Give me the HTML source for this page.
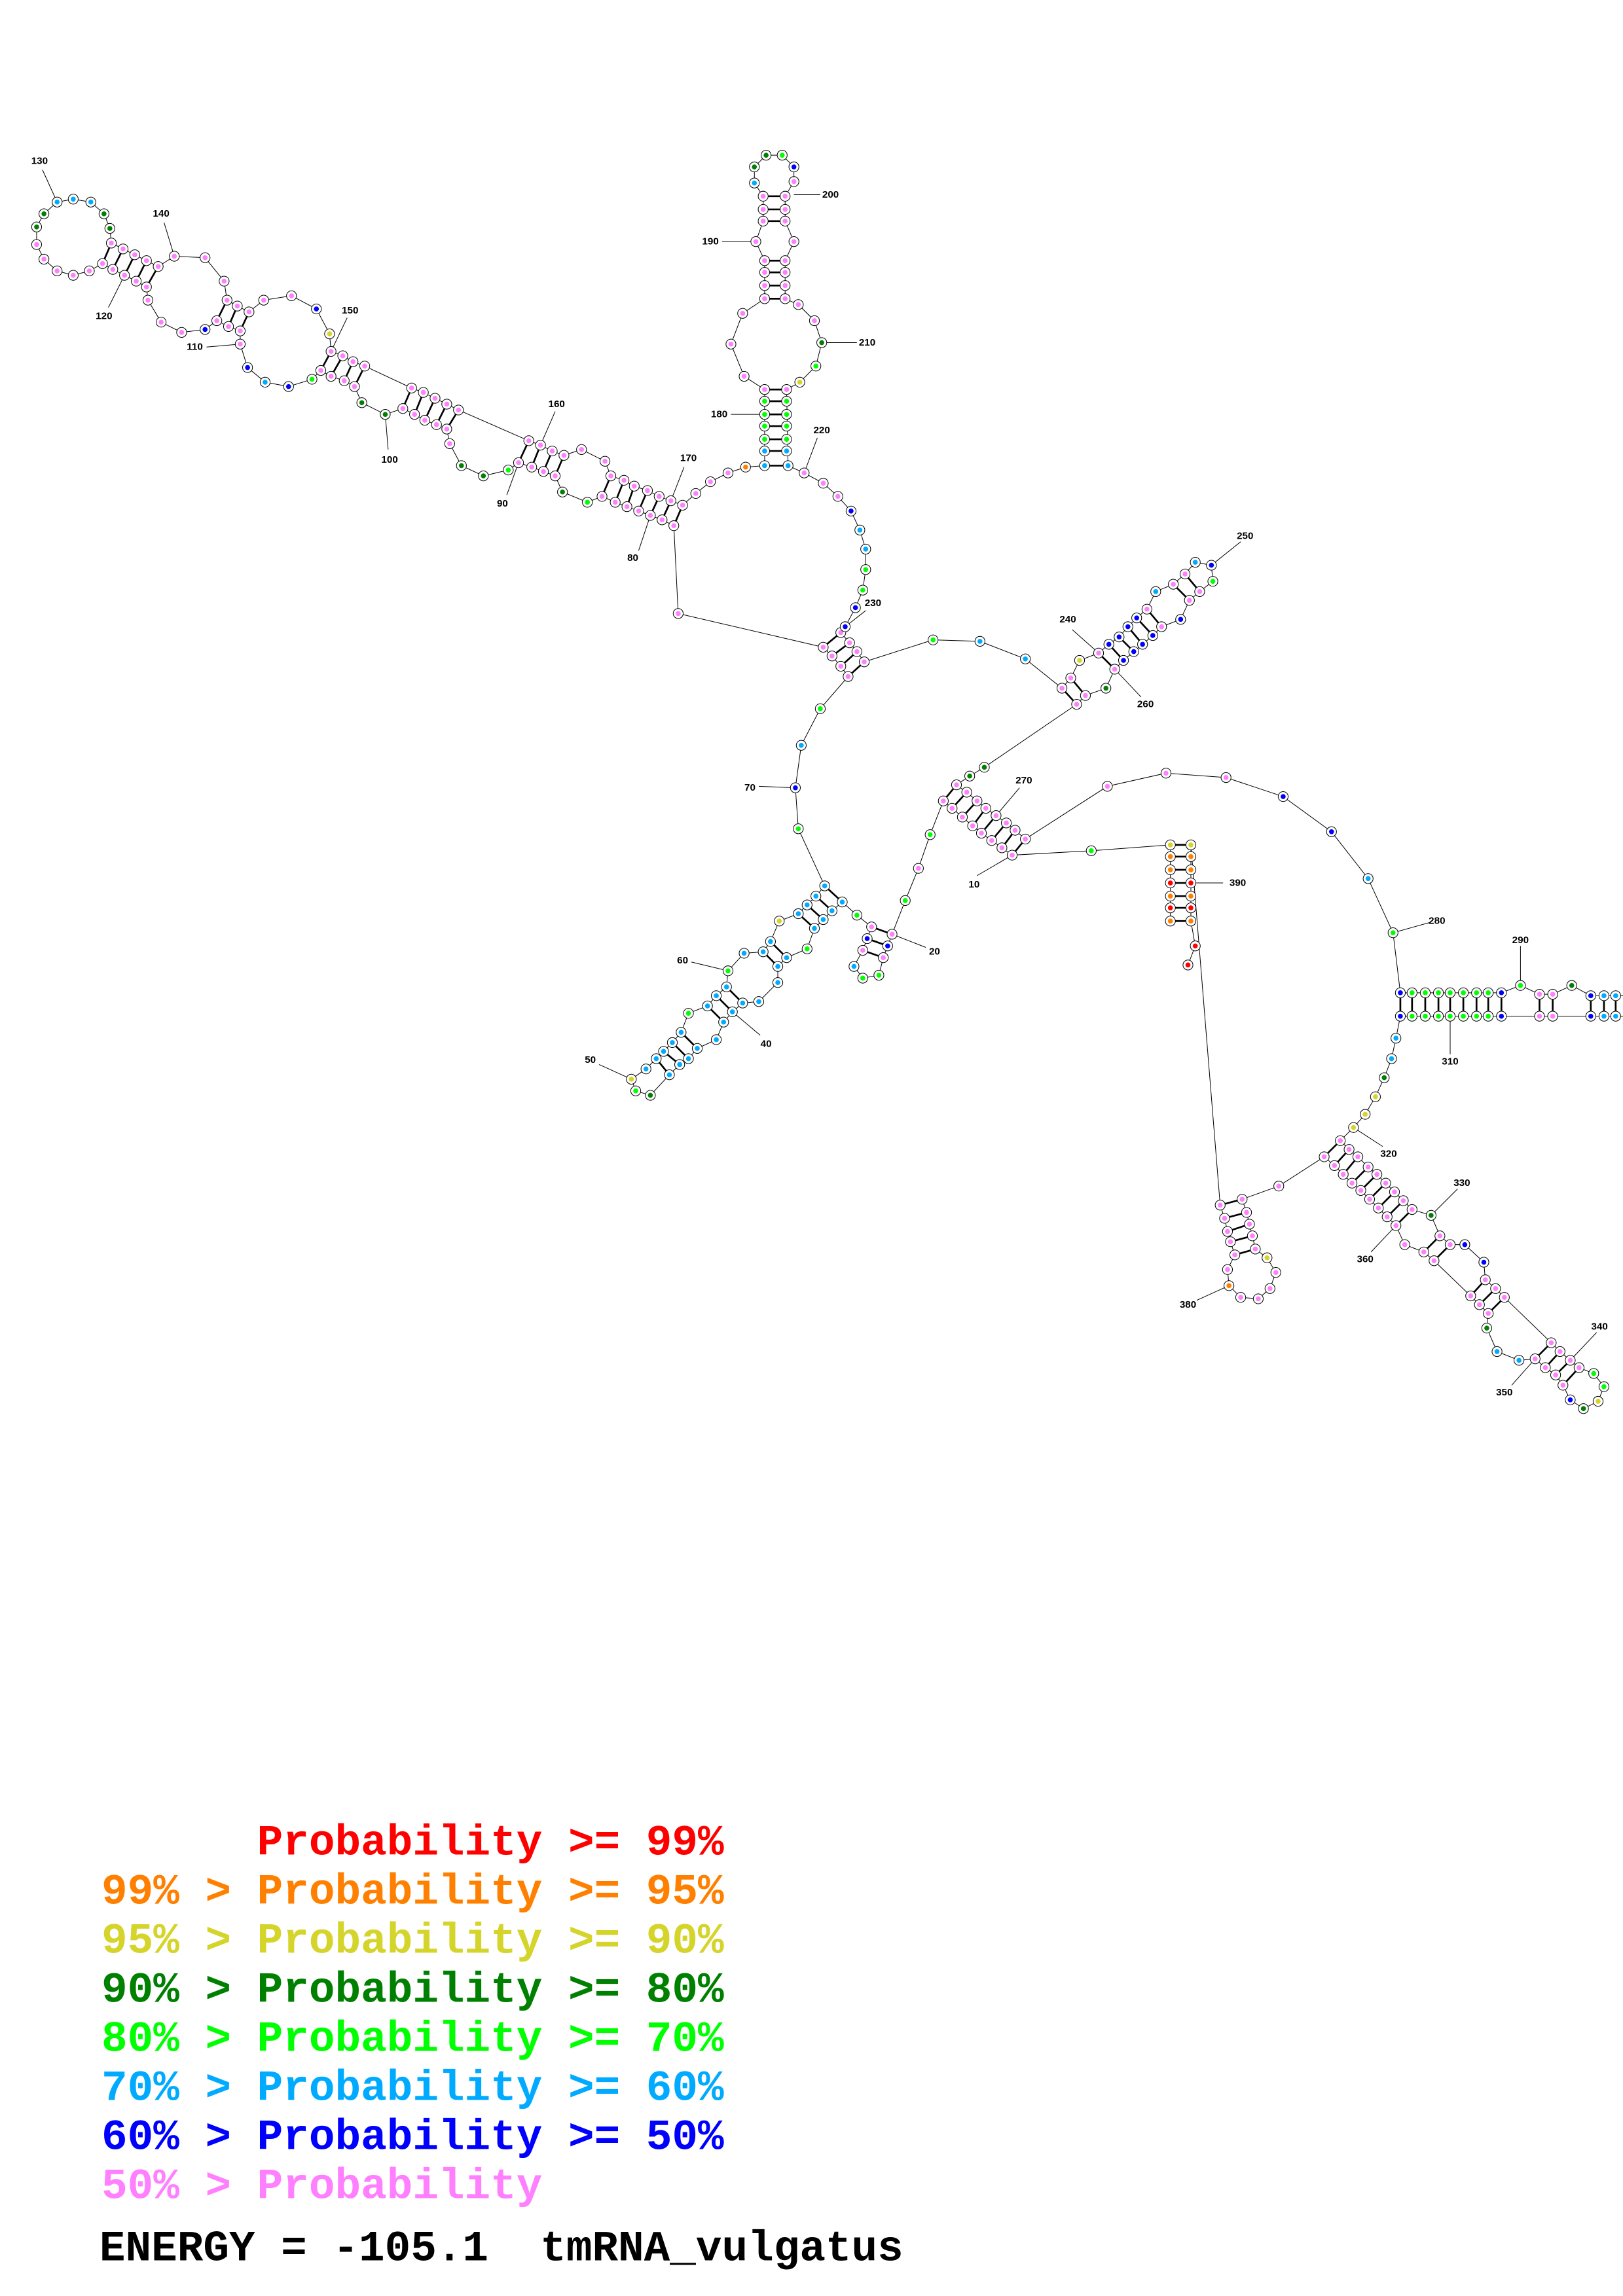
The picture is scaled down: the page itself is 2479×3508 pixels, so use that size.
<!DOCTYPE html>
<html><head><meta charset="utf-8"><style>
html,body{margin:0;padding:0;background:#fff;}
svg{display:block}
.bb{fill:none;stroke:#000;stroke-width:0.45}
.nd{fill:none;stroke:none}
.rg{stroke:#000;stroke-width:1.2}
.ll{stroke:#000;stroke-width:0.45}
.lb{font-family:"Liberation Sans",sans-serif;font-weight:bold;font-size:6.8px;fill:#000;text-anchor:middle}
.lg{font-family:"Liberation Mono",monospace;font-weight:bold;font-size:29.5px;white-space:pre}
</style></head><body>
<svg width="2479" height="3508" viewBox="0 0 1108 1568" preserveAspectRatio="none" xmlns="http://www.w3.org/2000/svg">
<defs>
<marker id="mp" markerUnits="userSpaceOnUse" markerWidth="10" markerHeight="10" refX="5" refY="5" overflow="visible"><circle cx="5" cy="5" r="3.4" fill="#fff" stroke="#000" stroke-width="0.45"/><circle cx="5" cy="5" r="1.7" fill="#ff80ff"/></marker>
<marker id="ml" markerUnits="userSpaceOnUse" markerWidth="10" markerHeight="10" refX="5" refY="5" overflow="visible"><circle cx="5" cy="5" r="3.4" fill="#fff" stroke="#000" stroke-width="0.45"/><circle cx="5" cy="5" r="1.7" fill="#00ff00"/></marker>
<marker id="mg" markerUnits="userSpaceOnUse" markerWidth="10" markerHeight="10" refX="5" refY="5" overflow="visible"><circle cx="5" cy="5" r="3.4" fill="#fff" stroke="#000" stroke-width="0.45"/><circle cx="5" cy="5" r="1.7" fill="#008000"/></marker>
<marker id="mc" markerUnits="userSpaceOnUse" markerWidth="10" markerHeight="10" refX="5" refY="5" overflow="visible"><circle cx="5" cy="5" r="3.4" fill="#fff" stroke="#000" stroke-width="0.45"/><circle cx="5" cy="5" r="1.7" fill="#00aaff"/></marker>
<marker id="mb" markerUnits="userSpaceOnUse" markerWidth="10" markerHeight="10" refX="5" refY="5" overflow="visible"><circle cx="5" cy="5" r="3.4" fill="#fff" stroke="#000" stroke-width="0.45"/><circle cx="5" cy="5" r="1.7" fill="#0000ff"/></marker>
<marker id="my" markerUnits="userSpaceOnUse" markerWidth="10" markerHeight="10" refX="5" refY="5" overflow="visible"><circle cx="5" cy="5" r="3.4" fill="#fff" stroke="#000" stroke-width="0.45"/><circle cx="5" cy="5" r="1.7" fill="#d4d42a"/></marker>
<marker id="mo" markerUnits="userSpaceOnUse" markerWidth="10" markerHeight="10" refX="5" refY="5" overflow="visible"><circle cx="5" cy="5" r="3.4" fill="#fff" stroke="#000" stroke-width="0.45"/><circle cx="5" cy="5" r="1.7" fill="#ff8000"/></marker>
<marker id="mr" markerUnits="userSpaceOnUse" markerWidth="10" markerHeight="10" refX="5" refY="5" overflow="visible"><circle cx="5" cy="5" r="3.4" fill="#fff" stroke="#000" stroke-width="0.45"/><circle cx="5" cy="5" r="1.7" fill="#ff0000"/></marker>
</defs>

<polyline class="bb" points="799,629 799,577 745,581 691,584 684,579 677,574 670,569 664,564 657,558 650,552 644,547 635,570 627,593 618,615 609,638 606,646 603,654 600,666 589,668 583,660 589,649 592,641 595,633 585,625 575,616 568,622 562,628 556,634 551,648 537,654 531,660 531,671 518,684 507,685 500,691 494,698 489,710 476,716 470,723 464,727 457,734 444,748 434,745 431,737 441,730 448,723 453,718 459,712 465,705 470,692 483,687 489,680 496,674 497,663 508,651 521,650 526,643 532,629 545,624 551,618 557,612 563,605 545,566 543,538 547,509 560,484 579,462 574,455 568,448 562,442 463,419 460,359 452,355 444,352 436,349 428,346 420,343 411,339 401,343 384,336 379,325 371,322 363,319 354,316 347,321 330,325 315,318 307,303 305,293 298,290 290,287 283,283 275,279 263,283 247,275 242,264 235,260 226,257 219,253 213,259 197,264 181,261 169,251 164,235 164,226 156,223 148,219 140,225 124,227 110,220 101,205 100,196 93,192 85,188 77,184 70,180 61,185 50,188 39,185 30,177 25,167 25,155 30,146 39,138 50,136 62,138 71,146 75,156 76,166 84,170 92,174 100,178 108,182 119,175 140,176 153,192 155,205 162,209 170,213 180,205 199,202 216,211 225,228 226,240 234,243 241,247 249,250 281,265 289,268 297,272 305,276 313,280 361,301 369,304 377,308 385,311 397,307 413,315 417,325 426,328 433,332 442,335 450,339 458,342 466,345 475,337 485,329 497,323 509,319 522,318 522,266 508,257 499,235 507,214 522,204 522,178 516,165 521,151 521,134 515,125 515,114 523,106 534,106 542,114 542,124 536,134 536,151 542,165 536,178 536,204 545,208 556,219 561,234 557,250 546,261 537,266 538,318 549,323 562,330 572,339 581,349 587,362 591,375 591,389 589,403 584,415 577,428 574,432 580,439 585,445 590,452 637,437 669,438 700,450 725,470 731,463 737,451 750,446 757,440 764,435 770,428 776,422 783,416 789,404 801,399 809,392 816,384 827,386 828,397 819,404 812,410 806,423 793,428 787,434 780,440 774,445 767,451 761,457 755,470 741,475 735,481 672,524 662,530 653,536 660,541 667,547 673,552 680,557 687,562 693,567 700,573 756,537 796,528 837,531 876,544 909,568 934,600 951,637 956,678 1025,678 1038,673 1051,679 1060,679 1073,673 1086,680 1120,680"/>
<polyline class="bb" points="1120,694 1086,694 1060,694 1051,694 1025,694 956,694 953,709 950,723 945,736 939,749 932,761 924,770 915,779 921,785 927,790 934,797 940,802 946,808 952,814 958,820 964,826 977,830 983,844 990,850 1000,850 1013,862 1014,874 1021,880 1027,886 1059,917 1065,923 1072,929 1078,934 1088,938 1095,947 1091,957 1081,962 1072,956 1067,946 1062,939 1055,934 1048,928 1037,929 1022,923 1015,907 1016,897 1010,891 1004,885 979,861 972,855 959,850 953,837 947,831 941,825 935,819 929,813 923,808 917,802 911,796 904,790 873,810 848,819 851,828 853,836 855,844 857,853 865,859 871,869 867,880 859,887 847,886 839,878 838,867 843,857 840,848 838,841 836,832 833,823 813,577 813,629 816,646 811,659"/>

<g class="rg">
<line x1="521" y1="134" x2="536" y2="134"/><line x1="521" y1="143" x2="536" y2="143"/><line x1="521" y1="151" x2="536" y2="151"/>
<line x1="522" y1="178" x2="536" y2="178"/><line x1="522" y1="186" x2="536" y2="186"/><line x1="522" y1="195" x2="536" y2="195"/><line x1="522" y1="204" x2="536" y2="204"/>
<line x1="522" y1="266" x2="537" y2="266"/><line x1="522" y1="274" x2="537" y2="274"/><line x1="522" y1="283" x2="537" y2="283"/><line x1="522" y1="291" x2="537" y2="291"/><line x1="522" y1="300" x2="537" y2="300"/><line x1="522" y1="308" x2="537" y2="308"/><line x1="522" y1="318" x2="538" y2="318"/>
<line x1="574" y1="432" x2="562" y2="442"/><line x1="580" y1="439" x2="568" y2="448"/><line x1="585" y1="445" x2="574" y2="455"/><line x1="590" y1="452" x2="579" y2="462"/>
<line x1="725" y1="470" x2="735" y2="481"/><line x1="731" y1="463" x2="741" y2="475"/><line x1="750" y1="446" x2="761" y2="457"/><line x1="757" y1="440" x2="767" y2="451"/><line x1="764" y1="435" x2="774" y2="445"/><line x1="770" y1="428" x2="780" y2="440"/><line x1="776" y1="422" x2="787" y2="434"/><line x1="783" y1="416" x2="793" y2="428"/><line x1="801" y1="399" x2="812" y2="410"/><line x1="809" y1="392" x2="819" y2="404"/>
<line x1="653" y1="536" x2="644" y2="547"/><line x1="660" y1="541" x2="650" y2="552"/><line x1="667" y1="547" x2="657" y2="558"/><line x1="673" y1="552" x2="664" y2="564"/><line x1="680" y1="557" x2="670" y2="569"/><line x1="687" y1="562" x2="677" y2="574"/><line x1="693" y1="567" x2="684" y2="579"/><line x1="700" y1="573" x2="691" y2="584"/>
<line x1="799" y1="577" x2="813" y2="577"/><line x1="799" y1="585" x2="813" y2="585"/><line x1="799" y1="594" x2="813" y2="594"/><line x1="799" y1="603" x2="813" y2="603"/><line x1="799" y1="612" x2="813" y2="612"/><line x1="799" y1="620" x2="813" y2="620"/><line x1="799" y1="629" x2="813" y2="629"/>
<line x1="956" y1="678" x2="956" y2="694"/><line x1="964" y1="678" x2="964" y2="694"/><line x1="973" y1="678" x2="973" y2="694"/><line x1="982" y1="678" x2="982" y2="694"/><line x1="990" y1="678" x2="990" y2="694"/><line x1="999" y1="678" x2="999" y2="694"/><line x1="1008" y1="678" x2="1008" y2="694"/><line x1="1016" y1="678" x2="1016" y2="694"/><line x1="1025" y1="678" x2="1025" y2="694"/>
<line x1="1051" y1="679" x2="1051" y2="694"/><line x1="1060" y1="679" x2="1060" y2="694"/><line x1="1086" y1="680" x2="1086" y2="694"/><line x1="1095" y1="680" x2="1095" y2="694"/><line x1="1103" y1="680" x2="1103" y2="694"/>
<line x1="915" y1="779" x2="904" y2="790"/><line x1="921" y1="785" x2="911" y2="796"/><line x1="927" y1="790" x2="917" y2="802"/><line x1="934" y1="797" x2="923" y2="808"/><line x1="940" y1="802" x2="929" y2="813"/><line x1="946" y1="808" x2="935" y2="819"/><line x1="952" y1="814" x2="941" y2="825"/><line x1="958" y1="820" x2="947" y2="831"/><line x1="964" y1="826" x2="953" y2="837"/>
<line x1="983" y1="844" x2="972" y2="855"/><line x1="990" y1="850" x2="979" y2="861"/>
<line x1="1014" y1="874" x2="1004" y2="885"/><line x1="1021" y1="880" x2="1010" y2="891"/><line x1="1027" y1="886" x2="1016" y2="897"/>
<line x1="1048" y1="928" x2="1059" y2="917"/><line x1="1055" y1="934" x2="1065" y2="923"/><line x1="1062" y1="939" x2="1072" y2="929"/><line x1="1067" y1="946" x2="1078" y2="934"/>
<line x1="833" y1="823" x2="848" y2="819"/><line x1="836" y1="832" x2="851" y2="828"/><line x1="838" y1="841" x2="853" y2="836"/><line x1="840" y1="848" x2="855" y2="844"/><line x1="843" y1="857" x2="857" y2="853"/>
<line x1="595" y1="633" x2="609" y2="638"/><line x1="592" y1="641" x2="606" y2="646"/><line x1="589" y1="649" x2="603" y2="654"/>
<line x1="563" y1="605" x2="575" y2="616"/><line x1="557" y1="612" x2="568" y2="622"/><line x1="551" y1="618" x2="562" y2="628"/><line x1="545" y1="624" x2="556" y2="634"/><line x1="526" y1="643" x2="537" y2="654"/><line x1="521" y1="650" x2="531" y2="660"/>
<line x1="496" y1="674" x2="507" y2="685"/><line x1="489" y1="680" x2="500" y2="691"/><line x1="483" y1="687" x2="494" y2="698"/><line x1="465" y1="705" x2="476" y2="716"/><line x1="459" y1="712" x2="470" y2="723"/><line x1="453" y1="718" x2="464" y2="727"/><line x1="448" y1="723" x2="457" y2="734"/>
<line x1="466" y1="345" x2="460" y2="359"/><line x1="458" y1="342" x2="452" y2="355"/><line x1="450" y1="339" x2="444" y2="352"/><line x1="442" y1="335" x2="436" y2="349"/><line x1="433" y1="332" x2="428" y2="346"/><line x1="426" y1="328" x2="420" y2="343"/><line x1="417" y1="325" x2="411" y2="339"/>
<line x1="385" y1="311" x2="379" y2="325"/><line x1="377" y1="308" x2="371" y2="322"/><line x1="369" y1="304" x2="363" y2="319"/><line x1="361" y1="301" x2="354" y2="316"/>
<line x1="313" y1="280" x2="305" y2="293"/><line x1="305" y1="276" x2="298" y2="290"/><line x1="297" y1="272" x2="290" y2="287"/><line x1="289" y1="268" x2="283" y2="283"/><line x1="281" y1="265" x2="275" y2="279"/>
<line x1="226" y1="240" x2="219" y2="253"/><line x1="234" y1="243" x2="226" y2="257"/><line x1="241" y1="247" x2="235" y2="260"/><line x1="249" y1="250" x2="242" y2="264"/>
<line x1="148" y1="219" x2="155" y2="205"/><line x1="156" y1="223" x2="162" y2="209"/><line x1="164" y1="226" x2="170" y2="213"/>
<line x1="108" y1="182" x2="100" y2="196"/><line x1="100" y1="178" x2="93" y2="192"/><line x1="92" y1="174" x2="85" y2="188"/><line x1="84" y1="170" x2="77" y2="184"/><line x1="76" y1="166" x2="70" y2="180"/>
</g>

<g class="ll">
<line x1="691" y1="584" x2="667" y2="598"/><line x1="609" y1="638" x2="632" y2="647"/><line x1="500" y1="691" x2="519" y2="707"/><line x1="431" y1="737" x2="409" y2="727"/><line x1="497" y1="663" x2="472" y2="657"/><line x1="543" y1="538" x2="518" y2="537"/><line x1="444" y1="352" x2="436" y2="376"/><line x1="354" y1="316" x2="346" y2="338"/><line x1="263" y1="283" x2="265" y2="307"/><line x1="164" y1="235" x2="141" y2="237"/><line x1="85" y1="188" x2="74" y2="210"/><line x1="39" y1="138" x2="29" y2="116"/><line x1="119" y1="175" x2="112" y2="152"/><line x1="226" y1="240" x2="237" y2="217"/><line x1="369" y1="304" x2="379" y2="281"/><line x1="458" y1="342" x2="467" y2="319"/><line x1="522" y1="283" x2="499" y2="283"/><line x1="516" y1="165" x2="493" y2="165"/><line x1="542" y1="133" x2="560" y2="133"/><line x1="561" y1="234" x2="585" y2="234"/><line x1="549" y1="323" x2="558" y2="299"/><line x1="577" y1="428" x2="591" y2="417"/><line x1="750" y1="446" x2="732" y2="430"/><line x1="827" y1="386" x2="847" y2="370"/><line x1="761" y1="457" x2="779" y2="476"/><line x1="680" y1="557" x2="696" y2="538"/><line x1="951" y1="637" x2="976" y2="630"/><line x1="1038" y1="673" x2="1038" y2="646"/><line x1="990" y1="694" x2="990" y2="720"/><line x1="924" y1="770" x2="944" y2="783"/><line x1="977" y1="830" x2="995" y2="812"/><line x1="1072" y1="929" x2="1090" y2="910"/><line x1="1048" y1="928" x2="1032" y2="946"/><line x1="953" y1="837" x2="936" y2="855"/><line x1="839" y1="878" x2="817" y2="888"/><line x1="813" y1="603" x2="835" y2="603"/>
</g>

<polyline class="nd" marker-start="url(#mp)" marker-mid="url(#mp)" marker-end="url(#mp)" points="542,124 521,134 521,143 521,151 536,134 536,143 536,151 516,165 542,165 522,178 522,186 522,195 522,204 536,178 536,186 536,195 536,204 507,214 499,235 508,257 545,208 556,219 522,266 537,266 497,323 485,329 475,337 549,323 562,330 572,339 574,432 580,439 585,445 590,452 562,442 568,448 574,455 579,462 725,470 731,463 750,446 783,416 801,399 809,392 819,404 812,410 793,428 761,457 741,475 735,481 653,536 660,541 667,547 673,552 680,557 687,562 693,567 700,573 644,547 650,552 657,558 664,564 670,569 677,574 684,579 691,584 756,537 796,528 837,531 1051,679 1060,679 1051,694 1060,694 915,779 921,785 927,790 934,797 940,802 946,808 952,814 958,820 964,826 904,790 911,796 917,802 923,808 929,813 935,819 941,825 947,831 953,837 959,850 972,855 979,861 983,844 990,850 1014,874 1021,880 1027,886 1004,885 1010,891 1016,897 1048,928 1055,934 1062,939 1067,946 1078,934 1072,929 1065,923 1059,917 873,810 848,819 833,823 836,832 838,841 840,848 843,857 838,867 847,886 859,887 867,880 871,869 857,853 855,844 853,836 851,828 627,593 609,638 595,633 603,654 589,649 463,419 466,345 458,342 450,339 442,335 433,332 426,328 417,325 460,359 452,355 444,352 436,349 428,346 420,343 411,339 413,315 397,307 385,311 379,325 377,308 369,304 361,301 371,322 363,319 354,316 307,303 305,293 298,290 290,287 283,283 275,279 313,280 305,276 297,272 289,268 281,265 249,250 241,247 234,243 226,240 219,253 226,257 235,260 242,264 199,202 180,205 170,213 164,235 164,226 156,223 148,219 162,209 155,205 153,192 140,176 119,175 108,182 124,227 110,220 101,205 100,196 100,178 92,174 84,170 76,166 93,192 85,188 77,184 70,180 25,167 30,177 39,185 50,188 61,185"/>
<polyline class="nd" marker-start="url(#ml)" marker-mid="url(#ml)" marker-end="url(#ml)" points="534,106 557,250 522,274 522,283 522,291 522,300 537,274 537,283 537,291 537,300 591,389 589,403 637,437 828,397 951,637 964,678 973,678 982,678 990,678 999,678 1008,678 1016,678 964,694 973,694 982,694 990,694 999,694 1008,694 1016,694 1038,673 1095,947 1088,938 745,581 635,570 618,615 589,668 600,666 585,625 551,648 497,663 470,692 434,745 545,566 560,484 401,343 347,321 213,259"/>
<polyline class="nd" marker-start="url(#mg)" marker-mid="url(#mg)" marker-end="url(#mg)" points="515,114 523,106 561,234 672,524 662,530 755,470 1073,673 945,736 977,830 1015,907 1081,962 444,748 384,336 330,325 315,318 247,275 263,283 75,156 71,146 30,146 25,155"/>
<polyline class="nd" marker-start="url(#mc)" marker-mid="url(#mc)" marker-end="url(#mc)" points="515,125 522,308 522,318 537,308 538,318 587,362 591,375 669,438 700,450 789,404 816,384 1095,680 1103,680 1095,694 1103,694 1112,680 1112,694 953,709 950,723 1022,923 1037,929 934,600 583,660 575,616 568,622 562,628 556,634 537,654 531,660 531,671 518,684 507,685 500,691 494,698 489,710 476,716 470,723 464,727 457,734 563,605 557,612 551,618 545,624 526,643 521,650 508,651 496,674 489,680 483,687 465,705 459,712 453,718 448,723 441,730 547,509 181,261 62,138 50,136 39,138"/>
<polyline class="nd" marker-start="url(#mb)" marker-mid="url(#mb)" marker-end="url(#mb)" points="542,114 581,349 584,415 577,428 757,440 764,435 770,428 776,422 827,386 806,423 787,434 780,440 774,445 767,451 876,544 909,568 956,678 1025,678 956,694 1025,694 1086,680 1086,694 1000,850 1013,862 1072,956 592,641 606,646 543,538 216,211 197,264 169,251 140,225"/>
<polyline class="nd" marker-start="url(#my)" marker-mid="url(#my)" marker-end="url(#my)" points="546,261 737,451 939,749 932,761 924,770 1091,957 865,859 532,629 431,737 225,228 799,577 813,577"/>
<polyline class="nd" marker-start="url(#mo)" marker-mid="url(#mo)" marker-end="url(#mo)" points="509,319 839,878 799,585 799,594 799,612 799,629 813,585 813,594 813,612 813,629"/>
<polyline class="nd" marker-start="url(#mr)" marker-mid="url(#mr)" marker-end="url(#mr)" points="799,603 799,620 813,603 813,620 816,646 811,659"/>

<g class="lb">
<text x="665" y="606">10</text><text x="638" y="652">20</text><text x="523" y="715">40</text><text x="403" y="726">50</text><text x="466" y="658">60</text><text x="512" y="540">70</text><text x="432" y="383">80</text><text x="343" y="346">90</text><text x="266" y="316">100</text><text x="133" y="239">110</text><text x="71" y="218">120</text><text x="27" y="112">130</text><text x="110" y="148">140</text><text x="239" y="214">150</text><text x="380" y="278">160</text><text x="470" y="315">170</text><text x="491" y="285">180</text><text x="485" y="167">190</text><text x="567" y="135">200</text><text x="592" y="236">210</text><text x="561" y="296">220</text><text x="596" y="414">230</text><text x="729" y="425">240</text><text x="850" y="368">250</text><text x="782" y="483">260</text><text x="699" y="535">270</text><text x="981" y="631">280</text><text x="1038" y="644">290</text><text x="1117" y="732">300</text><text x="990" y="727">310</text><text x="948" y="790">320</text><text x="998" y="810">330</text><text x="1092" y="908">340</text><text x="1027" y="953">350</text><text x="932" y="862">360</text><text x="811" y="893">380</text><text x="845" y="605">390</text>
</g>

<text class="lg" x="69.3" y="1266.6" fill="#ff0000">      Probability &gt;= 99%</text>
<text class="lg" x="69.3" y="1300.1" fill="#ff8000">99% &gt; Probability &gt;= 95%</text>
<text class="lg" x="69.3" y="1333.6" fill="#d4d42a">95% &gt; Probability &gt;= 90%</text>
<text class="lg" x="69.3" y="1367.1" fill="#008000">90% &gt; Probability &gt;= 80%</text>
<text class="lg" x="69.3" y="1400.6" fill="#00ff00">80% &gt; Probability &gt;= 70%</text>
<text class="lg" x="69.3" y="1434.1" fill="#00aaff">70% &gt; Probability &gt;= 60%</text>
<text class="lg" x="69.3" y="1467.6" fill="#0000ff">60% &gt; Probability &gt;= 50%</text>
<text class="lg" x="69.3" y="1501.1" fill="#ff80ff">50% &gt; Probability</text>
<text class="lg" x="67.9" y="1543.6" fill="#000">ENERGY = -105.1  tmRNA_vulgatus</text>
</svg>
</body></html>
